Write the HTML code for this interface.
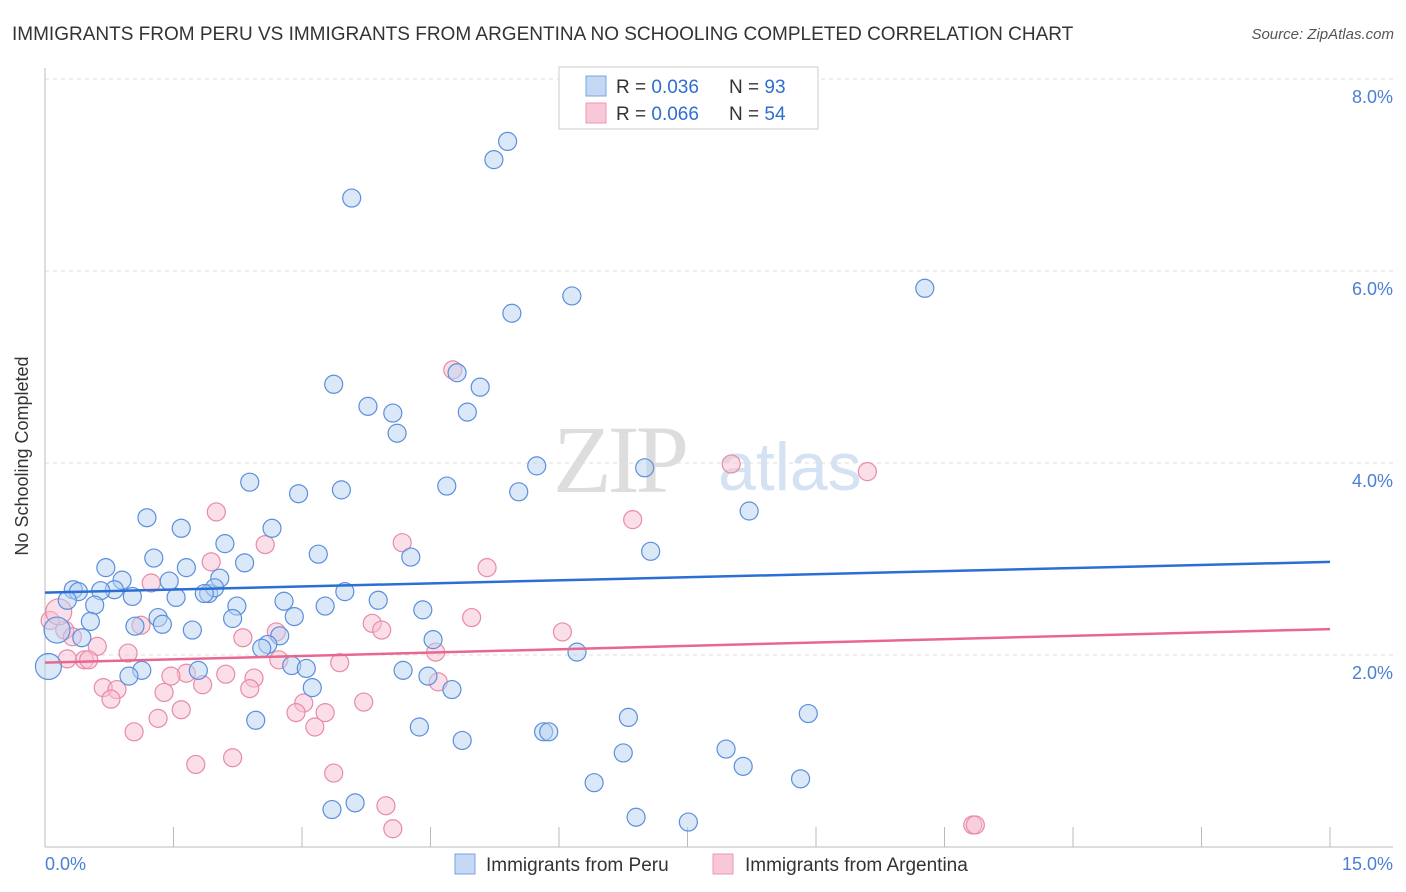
<!DOCTYPE html>
<html><head><meta charset="utf-8"><style>
body{margin:0;background:#fff;font-family:"Liberation Sans",sans-serif;}
svg{display:block}
</style></head><body>
<svg id="chart" width="1406" height="892" xmlns="http://www.w3.org/2000/svg">
<text x="12" y="40" font-size="19" fill="#333">IMMIGRANTS FROM PERU VS IMMIGRANTS FROM ARGENTINA NO SCHOOLING COMPLETED CORRELATION CHART</text>
<text x="1394" y="39" font-size="15" fill="#555" font-style="italic" text-anchor="end">Source: ZipAtlas.com</text>
<g>
<text x="553" y="492" font-size="96" font-family="Liberation Serif,serif" fill="#ddd" letter-spacing="-4">ZIP</text>
<text x="718" y="490" font-size="68" fill="#d4e2f4">atlas</text>
</g>
<g id="grid"></g>
<line x1="45" y1="68" x2="45" y2="847" stroke="#bbb"/>
<line x1="45" y1="847" x2="1393" y2="847" stroke="#bbb"/>
<g id="xticks"></g>
<g id="marks"></g>
<text x="28" y="456" font-size="18" fill="#333" text-anchor="middle" transform="rotate(-90 28 456)">No Schooling Completed</text>
<text x="45" y="870" font-size="18" fill="#4a7fd4">0.0%</text>
<text x="1393" y="870" font-size="18" fill="#4a7fd4" text-anchor="end">15.0%</text>
<g>
<rect x="559" y="67" width="259" height="62" fill="#fff" stroke="#ccc"/>
<rect x="586" y="76" width="20" height="20" fill="#c4d8f4" stroke="#7aa4e0"/>
<rect x="586" y="103" width="20" height="20" fill="#f8c8d8" stroke="#ec98b4"/>
<text x="616" y="93" font-size="19" fill="#333">R = <tspan fill="#2f6ed0">0.036</tspan><tspan x="729">N = </tspan><tspan fill="#2f6ed0">93</tspan></text>
<text x="616" y="120" font-size="19" fill="#333">R = <tspan fill="#2f6ed0">0.066</tspan><tspan x="729">N = </tspan><tspan fill="#2f6ed0">54</tspan></text>
</g>
<g>
<rect x="455" y="854" width="20" height="20" fill="#c4d8f4" stroke="#7aa4e0"/>
<text x="486" y="871" font-size="19" fill="#333">Immigrants from Peru</text>
<rect x="713" y="854" width="20" height="20" fill="#f8c8d8" stroke="#ec98b4"/>
<text x="745" y="871" font-size="19" fill="#333">Immigrants from Argentina</text>
</g>
</svg>
<script>
const yTicks=[2,4,6,8];
const yTickLabels=["2.0%","4.0%","6.0%","8.0%"];
const xTicks=[0,1.5,3,4.5,6,7.5,9,10.5,12,13.5,15];
const peruX=[5.40,5.24,3.58,6.15,5.45,10.27,3.37,4.81,5.08,3.77,4.06,4.93,4.11,5.74,7.00,2.39,4.69,5.53,2.96,3.46,1.19,1.59,2.65,8.22,2.10,1.27,3.19,4.27,7.07,2.33,0.71,1.65,0.90,1.45,2.04,0.33,0.39,0.81,0.65,1.02,1.53,1.91,1.98,1.86,3.50,3.89,2.79,0.26,0.58,2.24,3.27,4.41,1.32,0.53,2.19,2.91,1.05,1.37,1.72,0.43,2.74,2.60,2.53,4.53,6.21,2.88,1.13,3.05,4.18,4.47,1.79,0.98,3.12,4.75,6.81,8.91,2.46,4.37,4.87,5.82,5.88,7.95,6.75,8.15,8.82,6.41,3.62,3.35,6.90,7.51];
const peruY=[7.35,7.16,6.76,5.74,5.56,5.82,4.82,4.94,4.79,4.59,4.52,4.53,4.31,3.97,3.95,3.80,3.76,3.70,3.68,3.72,3.43,3.32,3.32,3.50,3.16,3.01,3.05,3.02,3.08,2.96,2.91,2.91,2.78,2.77,2.80,2.68,2.66,2.68,2.67,2.61,2.60,2.64,2.70,2.64,2.66,2.57,2.56,2.57,2.52,2.51,2.51,2.47,2.39,2.35,2.38,2.40,2.30,2.32,2.26,2.18,2.20,2.11,2.07,2.16,2.03,1.89,1.84,1.86,1.84,1.78,1.84,1.78,1.66,1.64,1.35,1.39,1.32,1.25,1.11,1.20,1.20,1.02,0.98,0.84,0.71,0.67,0.46,0.39,0.31,0.26];
const peruBigX=[0.04,0.14];
const peruBigY=[1.88,2.26];
const argX=[4.76,8.01,9.60,2.00,6.86,2.57,4.17,1.94,5.16,1.24,1.12,4.98,3.82,6.04,3.93,0.06,0.23,0.32,0.61,2.31,2.70,4.56,0.97,0.46,0.51,2.73,3.44,1.65,2.11,1.47,4.59,2.44,0.68,0.84,1.84,1.39,2.39,3.72,3.02,0.77,2.93,3.27,1.59,1.32,3.15,1.04,2.19,1.76,3.37,3.98,4.06,10.83,10.86,0.26];
const argY=[4.97,3.99,3.91,3.49,3.41,3.15,3.17,2.97,2.91,2.75,2.31,2.39,2.33,2.24,2.26,2.36,2.26,2.19,2.09,2.18,2.24,2.03,2.02,1.95,1.95,1.95,1.92,1.81,1.80,1.78,1.72,1.76,1.66,1.64,1.69,1.61,1.65,1.51,1.50,1.54,1.40,1.40,1.43,1.34,1.25,1.20,0.93,0.86,0.77,0.43,0.19,0.23,0.23,1.96];
const argBigX=[0.16];
const argBigY=[2.45];
const trendPeru=[2.65,2.97];
const trendArg=[1.92,2.27];
const NS="http://www.w3.org/2000/svg";
const X=v=>45+v*(1330-45)/15;
const Y=v=>847-v*96;
function mk(tag,attrs,parent){const e=document.createElementNS(NS,tag);for(const k in attrs)e.setAttribute(k,attrs[k]);parent.appendChild(e);return e;}
const grid=document.getElementById('grid');
yTicks.forEach((t,i)=>{
 const l=mk('line',{x1:45,x2:1393,y1:Y(t),y2:Y(t),stroke:'#ddd','stroke-dasharray':'4,4'},grid);
 
 
 const tx=mk('text',{x:1393,y:Y(t)+24,'font-size':18,fill:'#4a7fd4','text-anchor':'end'},grid);
 tx.textContent=yTickLabels[i];
 
 
});
const xt=document.getElementById('xticks');
xTicks.forEach(t=>{
 const l=mk('line',{x1:X(t),x2:X(t),y1:827,y2:847,stroke:'#bbb'},xt);
 
 
});
const marks=document.getElementById('marks');
function dots(xs,ys,r,fill,stroke,name){
 xs.forEach((x,i)=>{
  const c=mk('circle',{cx:X(x),cy:Y(ys[i]),r:r,fill:fill,'fill-opacity':0.5,stroke:stroke,'stroke-width':1.2},marks);
  
  
 });
}
dots(argX,argY,9,'#f8c0d2','#e88aa8','argentina-point');
dots(argBigX,argBigY,13,'#f8c0d2','#e88aa8','argentina-point');
dots(peruX,peruY,9,'#b8d2f2','#5b8fdc','peru-point');
dots(peruBigX,peruBigY,13,'#b8d2f2','#5b8fdc','peru-point');
const tp=mk('line',{x1:X(0),y1:Y(trendPeru[0]),x2:X(15),y2:Y(trendPeru[1]),stroke:'#2a6fd6','stroke-width':2.5},marks);


const ta=mk('line',{x1:X(0),y1:Y(trendArg[0]),x2:X(15),y2:Y(trendArg[1]),stroke:'#e8678f','stroke-width':2.5},marks);


</script>
</body></html>
